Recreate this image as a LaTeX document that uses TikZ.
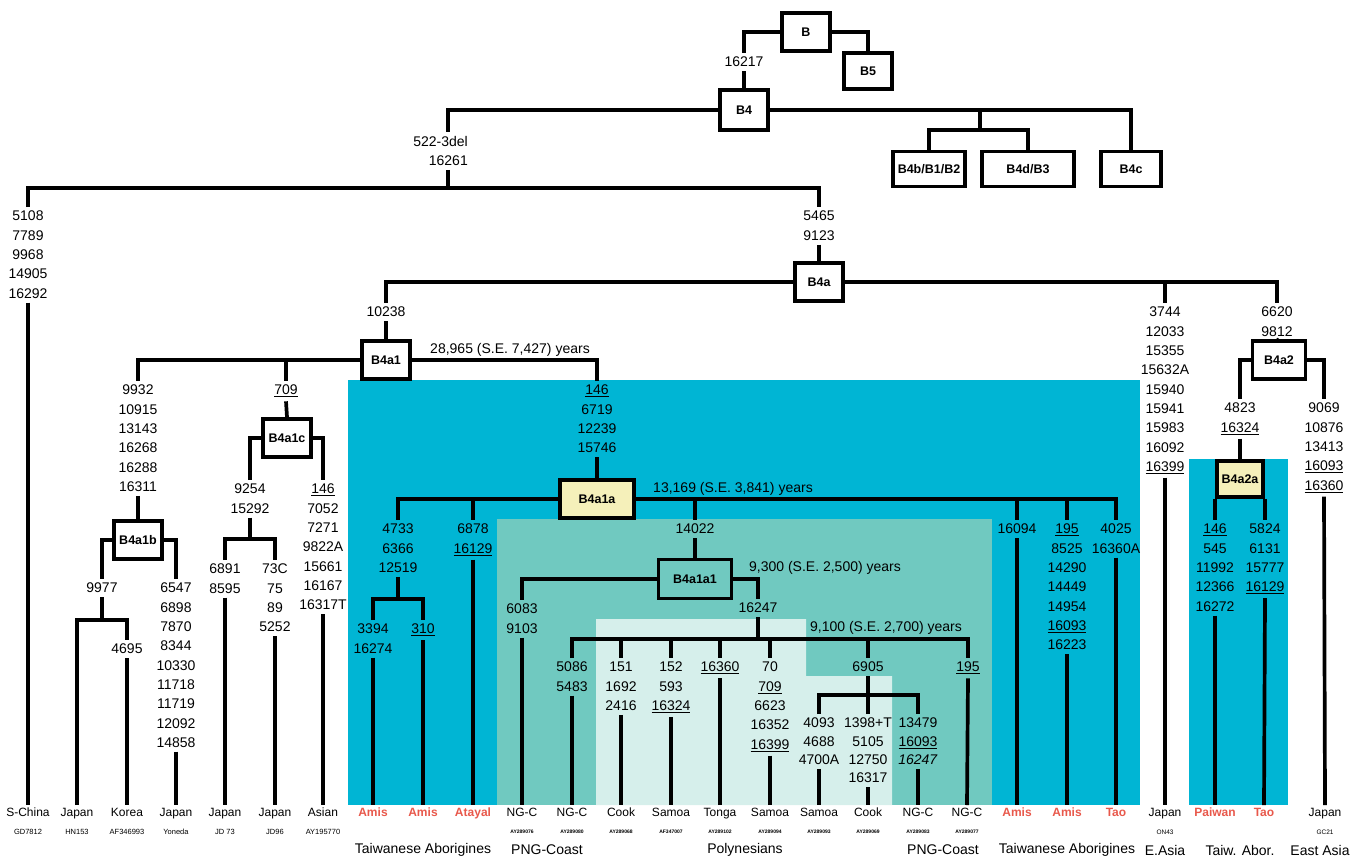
\documentclass[tikz,border=0pt]{standalone}
\usepackage{fontspec}
\setmainfont{Liberation Sans}
\definecolor{cblue}{RGB}{0,181,212}
\definecolor{cteal}{RGB}{112,201,192}
\definecolor{clight}{RGB}{214,239,235}
\definecolor{cyel}{RGB}{245,240,186}
\definecolor{cred}{RGB}{232,88,75}
\tikzset{
  br/.style={line width=3.7pt, line join=miter},
  hbox/.style={draw, line width=3.7pt, fill=white, minimum width=48pt, minimum height=38pt, inner sep=0pt, font=\fontsize{12.5}{14}\selectfont\bfseries},
  ybox/.style={hbox, fill=cyel},
  mut/.style={align=center, anchor=north, inner xsep=0pt, inner ysep=4pt, font=\fontsize{14}{19.3}\selectfont},
  leaf/.style={anchor=north, inner xsep=0pt, inner ysep=3pt, font=\fontsize{12}{13}\selectfont},
  rleaf/.style={leaf, text=cred, font=\fontsize{12}{13}\selectfont\bfseries},
  acc/.style={inner sep=0pt, font=\fontsize{7.5}{8}\selectfont},
  sacc/.style={inner sep=0pt, font=\fontsize{5}{6}\selectfont\bfseries},
  grp/.style={inner sep=0pt, font=\fontsize{14}{16}\selectfont},
  yrs/.style={inner sep=0pt, font=\fontsize{14}{16}\selectfont},
}
\begin{document}
\begin{tikzpicture}[x=1pt,y=-1pt]
\useasboundingbox (0,0) rectangle (1365,859);
% coloured regions
\fill[cblue] (348,380) rectangle (1140,805);
\fill[cteal] (497,519) rectangle (992,805);
\fill[clight] (596,619) -- (806,619) -- (806,676) -- (892,676) -- (892,805) -- (596,805) -- cycle;
\fill[cblue] (1189,459) rectangle (1288,805);

% boxes
\node[hbox] (B) at (806,32) {B};
\node[hbox, minimum height=36pt] (B5) at (868,71) {B5};
\node[hbox, minimum height=40pt] (B4) at (744,110) {B4};
\node[hbox, minimum width=72pt, minimum height=35pt] (B4b) at (929,169) {B4b/B1/B2};
\node[hbox, minimum width=92pt, minimum height=35pt] (B4d) at (1028,169) {B4d/B3};
\node[hbox, minimum width=60pt, minimum height=35pt] (B4c) at (1131,169) {B4c};
\node[hbox] (B4a) at (819,282) {B4a};
\node[hbox] (B4a1) at (386,360) {B4a1};
\node[hbox] (B4a1c) at (287,438) {B4a1c};
\node[hbox] (B4a1b) at (138,540) {B4a1b};
\node[ybox, minimum width=74pt] (B4a1a) at (597,499) {B4a1a};
\node[hbox, minimum width=73pt, minimum height=39pt, fill=none] (B4a1a1) at (695,579) {B4a1a1};
\node[hbox, minimum width=53pt] (B4a2) at (1279,360) {B4a2};
\node[ybox, minimum width=46pt, minimum height=36pt] (B4a2a) at (1240,479) {B4a2a};

% mutation stacks (y = first row centre - 9)
\node[mut] (m16217) at (744,53) {16217};
\node[mut, align=right, anchor=north east] (m522) at (468,132) {522-3del\\16261};
\node[mut] (m1) at (28,207) {5108\\7789\\9968\\14905\\16292};
\node[mut] (m5465) at (819,207) {5465\\9123};
\node[mut] (m10238) at (386,303) {10238};
\node[mut] (m3744) at (1165,303) {3744\\12033\\15355\\15632A\\15940\\15941\\15983\\16092\\\underline{16399}};
\node[mut] (m6620) at (1277,303) {6620\\9812};
\node[mut] (m4823) at (1240,399) {4823\\\underline{16324}};
\node[mut] (m9069) at (1324,399) {9069\\10876\\13413\\\underline{16093}\\\underline{16360}};
\node[mut] (m146c) at (1215,520) {\underline{146}\\545\\11992\\12366\\16272};
\node[mut] (m5824) at (1265,520) {5824\\6131\\15777\\\underline{16129}};
\node[mut] (m9932) at (138,381) {9932\\10915\\13143\\16268\\16288\\16311};
\node[mut] (m709) at (286,381) {\underline{709}};
\node[mut] (m146a) at (597,381) {\underline{146}\\6719\\12239\\15746};
\node[mut] (m9977) at (102,579) {9977};
\node[mut] (m6547) at (176,579) {6547\\6898\\7870\\8344\\10330\\11718\\11719\\12092\\14858};
\node[mut] (m4695) at (127,640) {4695};
\node[mut] (m9254) at (250,480) {9254\\15292};
\node[mut] (m146b) at (323,480) {\underline{146}\\7052\\7271\\9822A\\15661\\16167\\16317T};
\node[mut] (m6891) at (225,560) {6891\\8595};
\node[mut] (m73C) at (275,560) {73C\\75\\89\\5252};
\node[mut] (m4733) at (398,520) {4733\\6366\\12519};
\node[mut] (m6878) at (473,520) {6878\\\underline{16129}};
\node[mut] (m14022) at (695,520) {14022};
\node[mut] (m16094) at (1017,520) {16094};
\node[mut] (m195a) at (1067,520) {\underline{195}\\8525\\14290\\14449\\14954\\\underline{16093}\\16223};
\node[mut] (m4025) at (1116,520) {4025\\16360A};
\node[mut] (m3394) at (373,620) {3394\\16274};
\node[mut] (m310) at (423,620) {\underline{310}};
\node[mut] (m6083) at (522,600) {6083\\9103};
\node[mut] (m16247) at (758,599) {16247};
\node[mut] (m5086) at (572,658) {5086\\5483};
\node[mut] (m151) at (621,658) {151\\1692\\2416};
\node[mut] (m152) at (671,658) {152\\593\\\underline{16324}};
\node[mut] (m16360) at (720,658) {\underline{16360}};
\node[mut] (m70) at (770,658) {70\\\underline{709}\\6623\\16352\\\underline{16399}};
\node[mut] (m6905) at (868,658) {6905};
\node[mut] (m195b) at (968,658) {\underline{195}};
\node[mut, font=\fontsize{14}{18.3}\selectfont] (m4093) at (819,714) {4093\\4688\\4700A};
\node[mut, font=\fontsize{14}{18.3}\selectfont] (m1398) at (868,714) {1398+T\\5105\\12750\\16317};
\node[mut, font=\fontsize{14}{18.3}\selectfont] (m13479) at (918,714) {13479\\\underline{16093}\\\textit{16247}};

% age labels
\node[yrs] (y1) at (510,350) {28,965 (S.E. 7,427) years};
\node[yrs] (y2) at (733,489) {13,169 (S.E. 3,841) years};
\node[yrs] (y3) at (825,568) {9,300 (S.E. 2,500) years};
\node[yrs] (y4) at (886,628) {9,100 (S.E. 2,700) years};

% leaves
\node[leaf] (L28) at (28,805) {S-China};
\node[leaf] (L77) at (77,805) {Japan};
\node[leaf] (L127) at (127,805) {Korea};
\node[leaf] (L176) at (176,805) {Japan};
\node[leaf] (L225) at (225,805) {Japan};
\node[leaf] (L275) at (275,805) {Japan};
\node[leaf] (L323) at (323,805) {Asian};
\node[rleaf] (L373) at (373,805) {Amis};
\node[rleaf] (L423) at (423,805) {Amis};
\node[rleaf] (L473) at (473,805) {Atayal};
\node[leaf] (L522) at (522,805) {NG-C};
\node[leaf] (L572) at (572,805) {NG-C};
\node[leaf] (L621) at (621,805) {Cook};
\node[leaf] (L671) at (671,805) {Samoa};
\node[leaf] (L720) at (720,805) {Tonga};
\node[leaf] (L770) at (770,805) {Samoa};
\node[leaf] (L819) at (819,805) {Samoa};
\node[leaf] (L868) at (868,805) {Cook};
\node[leaf] (L918) at (918,805) {NG-C};
\node[leaf] (L967) at (967,805) {NG-C};
\node[rleaf] (L1017) at (1017,805) {Amis};
\node[rleaf] (L1067) at (1067,805) {Amis};
\node[rleaf] (L1116) at (1116,805) {Tao};
\node[leaf] (L1165) at (1165,805) {Japan};
\node[rleaf] (L1215) at (1215,805) {Paiwan};
\node[rleaf] (L1264) at (1264,805) {Tao};
\node[leaf] (L1325) at (1325,805) {Japan};

% accession numbers
\node[acc] (a28) at (28,832) {GD7812};
\node[acc] (a77) at (77,832) {HN153};
\node[acc] (a127) at (127,832) {AF346993};
\node[acc] (a176) at (176,832) {Yoneda};
\node[acc] (a225) at (225,832) {JD 73};
\node[acc] (a275) at (275,832) {JD96};
\node[acc] (a323) at (323,832) {AY195770};
\node[sacc] (a522) at (522,832) {AY289076};
\node[sacc] (a572) at (572,832) {AY289080};
\node[sacc] (a621) at (621,832) {AY289068};
\node[sacc] (a671) at (671,832) {AF347007};
\node[sacc] (a720) at (720,832) {AY289102};
\node[sacc] (a770) at (770,832) {AY289094};
\node[sacc] (a819) at (819,832) {AY289093};
\node[sacc] (a868) at (868,832) {AY289069};
\node[sacc] (a918) at (918,832) {AY289083};
\node[sacc] (a967) at (967,832) {AY289077};
\node[acc, font=\fontsize{6.5}{7}\selectfont] (a1165) at (1165,832) {ON43};
\node[acc, font=\fontsize{6.5}{7}\selectfont] (a1325) at (1325,832) {GC21};

% group labels
\node[grp] (g1) at (423,850) {Taiwanese Aborigines};
\node[grp] (g2) at (547,850) {PNG-Coast};
\node[grp] (g3) at (745,850) {Polynesians};
\node[grp] (g4) at (943,850) {PNG-Coast};
\node[grp] (g5) at (1067,850) {Taiwanese Aborigines};
\node[grp] (g6) at (1165,850) {E.Asia};
\node[grp] (g7) at (1240,850) {Taiw. Abor.};
\node[grp] (g8) at (1320,850) {East Asia};

% junction coordinates
\coordinate (j0) at (448,188);
\coordinate (j4) at (980,130);
\coordinate (j9977) at (102,620);
\coordinate (j9254) at (250,539);
\coordinate (j4733) at (398,599);
\coordinate (j16247) at (758,639);
\coordinate (j6905) at (868,695);

% connectors
\draw[br] (B.west) -| (m16217.north);
\draw[br] (m16217.south) -- (B4.north);
\draw[br] (B.east) -| (B5.north);
\draw[br] (B4.west) -| (j0 |- m522.north);
\draw[br] (j0 |- m522.south) -- (j0);
\draw[br] (m1.north) |- (j0) -| (m5465.north);
\draw[br] (B4.east) -| (B4c.north);
\draw[br] (j4 |- B4.east) -- (j4);
\draw[br] (B4b.north) |- (j4) -| (B4d.north);
\draw[br] (m1.south) -- (L28.north);
\draw[br] (m5465.south) -- (B4a.north);
\draw[br] (B4a.west) -| (m10238.north);
\draw[br] (B4a.east) -| (m6620.north);
\draw[br] (m3744.north |- B4a.east) -- (m3744.north);
\draw[br] (m3744.south) -- (L1165.north);
\draw[br] (m10238.south) -- (B4a1.north);
\draw[br] (B4a1.west) -| (m9932.north);
\draw[br] (m709.north |- B4a1.west) -- (m709.north);
\draw[br] (m709.south) -- (B4a1c.north);
\draw[br] (B4a1.east) -| (m146a.north);
\draw[br] (m146a.south) -- (B4a1a.north);
\draw[br] (m9932.south) -- (B4a1b.north);
\draw[br] (B4a1b.west) -| (m9977.north);
\draw[br] (B4a1b.east) -| (m6547.north);
\draw[br] (m9977.south) -- (j9977);
\draw[br] (L77.north) |- (j9977) -| (m4695.north);
\draw[br] (m4695.south) -- (L127.north);
\draw[br] (m6547.south) -- (L176.north);
\draw[br] (B4a1c.west) -| (m9254.north);
\draw[br] (B4a1c.east) -| (m146b.north);
\draw[br] (m9254.south) -- (j9254);
\draw[br] (m6891.north) |- (j9254) -| (m73C.north);
\draw[br] (m6891.south) -- (L225.north);
\draw[br] (m73C.south) -- (L275.north);
\draw[br] (m146b.south) -- (L323.north);
\draw[br] (B4a1a.west) -| (m4733.north);
\draw[br] (m6878.north |- B4a1a.west) -- (m6878.north);
\draw[br] (B4a1a.east) -| (m4025.north);
\draw[br] (m14022.north |- B4a1a.east) -- (m14022.north);
\draw[br] (m16094.north |- B4a1a.east) -- (m16094.north);
\draw[br] (m195a.north |- B4a1a.east) -- (m195a.north);
\draw[br] (m4733.south) -- (j4733);
\draw[br] (m3394.north) |- (j4733) -| (m310.north);
\draw[br] (m3394.south) -- (L373.north);
\draw[br] (m310.south) -- (L423.north);
\draw[br] (m6878.south) -- (L473.north);
\draw[br] (m14022.south) -- (B4a1a1.north);
\draw[br] (B4a1a1.west) -| (m6083.north);
\draw[br] (B4a1a1.east) -| (m16247.north);
\draw[br] (m6083.south) -- (L522.north);
\draw[br] (m16247.south) -- (j16247);
\draw[br] (m5086.north) |- (j16247) -| (m195b.north);
\draw[br] (m151.north |- j16247) -- (m151.north);
\draw[br] (m152.north |- j16247) -- (m152.north);
\draw[br] (m16360.north |- j16247) -- (m16360.north);
\draw[br] (m70.north |- j16247) -- (m70.north);
\draw[br] (m6905.north |- j16247) -- (m6905.north);
\draw[br] (m5086.south) -- (L572.north);
\draw[br] (m151.south) -- (L621.north);
\draw[br] (m152.south) -- (L671.north);
\draw[br] (m16360.south) -- (L720.north);
\draw[br] (m70.south) -- (L770.north);
\draw[br] (m195b.south) -- (L967.north);
\draw[br] (m6905.south) -- (j6905);
\draw[br] (m4093.north) |- (j6905) -| (m13479.north);
\draw[br] (j6905) -- (m1398.north);
\draw[br] (m4093.south) -- (L819.north);
\draw[br] (m1398.south) -- (L868.north);
\draw[br] (m13479.south) -- (L918.north);
\draw[br] (m16094.south) -- (L1017.north);
\draw[br] (m195a.south) -- (L1067.north);
\draw[br] (m4025.south) -- (L1116.north);
\draw[br] (m6620.south) -- (B4a2.north);
\draw[br] (B4a2.west) -| (m4823.north);
\draw[br] (B4a2.east) -| (m9069.north);
\draw[br] (m4823.south) -- (B4a2a.north);
\draw[br] (m9069.south) -- (L1325.north);
\draw[br] (m146c.north |- B4a2a.south) -- (m146c.north);
\draw[br] (m5824.north |- B4a2a.south) -- (m5824.north);
\draw[br] (m146c.south) -- (L1215.north);
\draw[br] (m5824.south) -- (L1264.north);
\end{tikzpicture}
\end{document}
